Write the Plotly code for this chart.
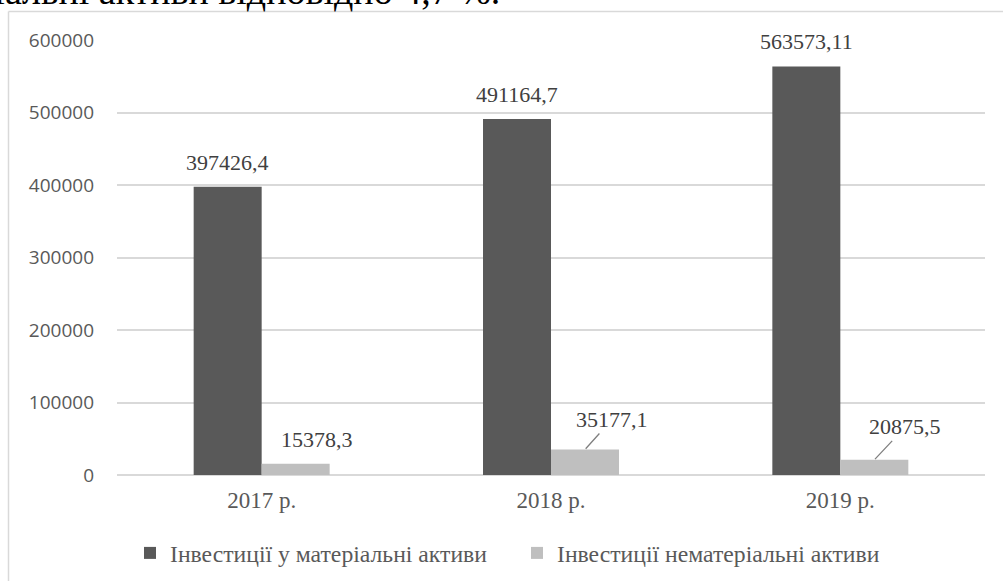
import plotly.graph_objects as go

# Investment data, thousand UAH
years = ["2017 р.", "2018 р.", "2019 р."]
tangible = [397426.4, 491164.7, 563573.11]
intangible = [15378.3, 35177.1, 20875.5]
series_names = ["Інвестиції у матеріальні активи", "Інвестиції нематеріальні активи"]
y_ticks = [0, 100000, 200000, 300000, 400000, 500000, 600000]

DARK = "#595959"
LIGHT = "#bfbfbf"
SERIF = "Liberation Serif, Times New Roman, serif"
SANS = "Open Sans, sans-serif"
BAR_W = 0.235

# plot area in pixels
L, R, T, B = 117, 18, 40, 106
W, H = 1003, 581
PW, PH = W - L - R, H - T - B


def px_x(p):
    return (p - L) / PW


def px_y(p):
    return (H - B - p) / PH


def fmt(v):
    return str(v).replace(".", ",")


fig = go.Figure()
fig.add_trace(go.Bar(x=years, y=tangible, name=series_names[0], marker_color=DARK,
                     width=BAR_W, offset=-BAR_W, marker_line_width=0))
fig.add_trace(go.Bar(x=years, y=intangible, name=series_names[1], marker_color=LIGHT,
                     width=BAR_W, offset=0, marker_line_width=0))

annotations = []
for i, v in enumerate(tangible):
    annotations.append(dict(x=i - BAR_W / 2, y=v, text=fmt(v), showarrow=False,
                            yanchor="bottom", yshift=10,
                            font=dict(family=SERIF, size=22, color="#404040")))

# labels of the small bars, two of them with leader lines
label_shift = [(21, -24, False), (27, -30, True), (31, -33, True)]
for i, v in enumerate(intangible):
    dx, dy, lead = label_shift[i]
    if lead:
        annotations.append(dict(x=i + BAR_W / 2, y=v, text=fmt(v), showarrow=True,
                                arrowhead=0, arrowwidth=1.3, arrowcolor="#7f7f7f",
                                ax=dx, ay=dy, standoff=1, startstandoff=0,
                                font=dict(family=SERIF, size=22, color="#404040")))
    else:
        annotations.append(dict(x=i + BAR_W / 2, y=v, text=fmt(v), showarrow=False,
                                xshift=dx, yshift=-dy,
                                font=dict(family=SERIF, size=22, color="#404040")))

# end of the preceding paragraph line
annotations.append(dict(xref="paper", yref="paper", x=px_x(502), y=px_y(14),
                        xanchor="right", yanchor="bottom", showarrow=False,
                        text="нематеріальні активи відповідно 4,7 %.",
                        font=dict(family=SERIF, size=38, color="#000000")))

# chart frame: only its top and left edges fall inside the page
frame = dict(color="#d9d9d9", width=1.5)
shapes = [
    dict(type="line", xref="paper", yref="paper", layer="below",
         x0=px_x(8.5), x1=px_x(1003), y0=px_y(11.5), y1=px_y(11.5), line=frame),
    dict(type="line", xref="paper", yref="paper", layer="below",
         x0=px_x(8.5), x1=px_x(8.5), y0=px_y(11.5), y1=px_y(581), line=frame),
]

fig.update_layout(
    width=W, height=H,
    margin=dict(l=L, r=R, t=T, b=B, pad=0, autoexpand=False),
    paper_bgcolor="white", plot_bgcolor="white",
    barmode="group", bargap=0.53, bargroupgap=0,
    showlegend=True,
    legend=dict(orientation="h", x=px_x(130), xanchor="left",
                y=px_y(553), yanchor="middle", entrywidth=342, entrywidthmode="pixels",
                itemwidth=30, font=dict(family=SERIF, size=23.7, color=DARK),
                bgcolor="rgba(0,0,0,0)", traceorder="normal"),
    annotations=annotations,
    shapes=shapes,
    xaxis=dict(showgrid=False, showline=False, ticks="", zeroline=False,
               tickfont=dict(family=SERIF, size=23, color=DARK),
               ticklabelstandoff=9),
    yaxis=dict(range=[0, 600000], tickvals=y_ticks, ticktext=[str(t) for t in y_ticks],
               showgrid=True, gridcolor="#d9d9d9", gridwidth=1.5,
               zeroline=True, zerolinecolor="#d9d9d9", zerolinewidth=1.5,
               showline=False, ticks="", ticklabelstandoff=22,
               tickfont=dict(family=SANS, size=19, color=DARK)),
)

fig.write_html("out.html")
